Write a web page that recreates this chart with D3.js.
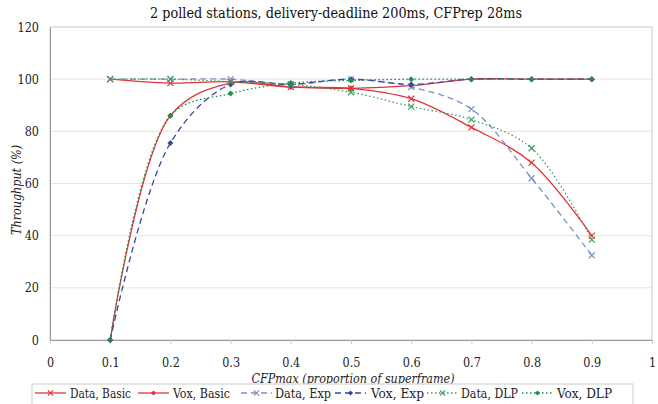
<!DOCTYPE html>
<html><head><meta charset="utf-8">
<script src="https://cdn.jsdelivr.net/npm/d3@7"></script>
<style>body{margin:0;background:#fff}svg{display:block}</style>
</head><body><svg id="c" width="658" height="404"></svg>
<script>
const xVals = [0.1,0.2,0.3,0.4,0.5,0.6,0.7,0.8,0.9];
const dataBasic = [100,98.5,99,97,96.5,92.5,81.5,68,40];
const voxBasic  = [0,86,98.5,97,96.5,97.5,100,100,100];
const dataExp   = [100,100,100,98,100,97,88.5,62,32.5];
const voxExp    = [0,75.5,98,98,100,98,100,100,100];
const dataDLP   = [100,100,99,98,95,89.5,84.5,73.5,38.5];
const voxDLP    = [0,86,94.5,98.5,99.5,100,100,100,100];
const xTicks = [0,0.1,0.2,0.3,0.4,0.5,0.6,0.7,0.8,0.9,1];
const yTicks = [0,20,40,60,80,100,120];
const seriesNames = ["Data, Basic","Vox, Basic","Data, Exp","Vox, Exp","Data, DLP","Vox, DLP"];

const series = [
  {name:seriesNames[0], vals:dataBasic, color:"#e0353a", dash:null, marker:"x"},
  {name:seriesNames[1], vals:voxBasic, color:"#e0353a", dash:null, marker:"dot"},
  {name:seriesNames[2], vals:dataExp, color:"#7f8fc8", dash:"6,4", marker:"x"},
  {name:seriesNames[3], vals:voxExp, color:"#3448a0", dash:"6,4", marker:"dot"},
  {name:seriesNames[4], vals:dataDLP, color:"#36a060", dash:"1.5,2.5", marker:"x"},
  {name:seriesNames[5], vals:voxDLP, color:"#1f8f4a", dash:"1.5,2.5", marker:"dot"}
];
const FONT = "'DejaVu Serif Condensed', 'DejaVu Serif', serif";

const svg = d3.select("#c").attr("font-family",FONT);
const x = d3.scaleLinear().domain([0,1]).range([50,652]);
const y = d3.scaleLinear().domain([0,120]).range([340,27]);

svg.append("text").attr("x",336).attr("y",18).attr("text-anchor","middle").style("font-family",FONT)
  .attr("font-size",15).attr("fill","#111").attr("textLength",372).attr("lengthAdjust","spacingAndGlyphs")
  .text("2 polled stations, delivery-deadline 200ms, CFPrep 28ms");

svg.append("g").selectAll("line").data(yTicks.filter(d=>d>0&&d<120)).join("line")
  .attr("x1",x(0)).attr("x2",x(1)).attr("y1",d=>y(d)).attr("y2",d=>y(d))
  .attr("stroke","#e4e4e4").attr("stroke-width",1);
svg.append("rect").attr("x",x(0)).attr("y",y(120)).attr("width",x(1)-x(0)).attr("height",y(0)-y(120))
  .attr("fill","none").attr("stroke","#c8c8c8").attr("stroke-width",1);

const yAxis = svg.append("g").attr("transform",`translate(${x(0)},0)`)
  .call(d3.axisLeft(y).tickValues(yTicks).tickSize(0).tickPadding(11).tickFormat(d3.format("d")));
yAxis.attr("font-family",FONT);
yAxis.select(".domain").attr("stroke","#999");
yAxis.selectAll("text").attr("font-size",12.5).attr("fill","#222").style("font-family",FONT);

const xAxis = svg.append("g").attr("transform",`translate(0,${y(0)})`)
  .call(d3.axisBottom(x).tickValues(xTicks).tickSize(4).tickPadding(14).tickFormat(d=>d===0||d===1?String(d):d3.format(".1f")(d)));
xAxis.attr("font-family",FONT);
xAxis.select(".domain").attr("stroke","#999");
xAxis.selectAll(".tick line").attr("stroke","#ccc");
xAxis.selectAll("text").attr("font-size",12.5).attr("fill","#222").style("font-family",FONT);

svg.append("text").attr("transform","translate(21,190) rotate(-90)").attr("text-anchor","middle").style("font-family",FONT)
  .attr("font-size",13).attr("font-style","italic").attr("fill","#222")
  .attr("textLength",90).attr("lengthAdjust","spacingAndGlyphs").text("Throughput (%)");
svg.append("text").attr("x",353).attr("y",383).attr("text-anchor","middle").style("font-family",FONT)
  .attr("font-size",13).attr("font-style","italic").attr("fill","#222")
  .attr("textLength",203).attr("lengthAdjust","spacingAndGlyphs").text("CFPmax (proportion of superframe)");

const line = d3.line().x((d,i)=>x(xVals[i])).y(d=>y(d)).curve(d3.curveCatmullRom.alpha(0.5));

function drawMarker(g, type, color, cx, cy, s){
  if(type==="x"){
    g.append("path").attr("d",`M${cx-s},${cy-s}L${cx+s},${cy+s}M${cx-s},${cy+s}L${cx+s},${cy-s}`)
      .attr("stroke",color).attr("stroke-width",1.2).attr("fill","none");
  } else {
    g.append("path").attr("d",`M${cx},${cy-s}L${cx+s},${cy}L${cx},${cy+s}L${cx-s},${cy}Z`)
      .attr("fill",color);
  }
}

const plot = svg.append("g");
series.forEach(s=>{
  plot.append("path").datum(s.vals).attr("d",line).attr("fill","none")
    .attr("stroke",s.color).attr("stroke-width",1.3).attr("stroke-dasharray",s.dash);
});
series.forEach(s=>{
  const g = plot.append("g");
  s.vals.forEach((v,i)=>drawMarker(g,s.marker,s.color,x(xVals[i]),y(v),3));
});

const lg = svg.append("g");
lg.append("rect").attr("x",32).attr("y",384).attr("width",601).attr("height",30)
  .attr("fill","#fff").attr("stroke","#ccc");
const legX = [35,138,241,335,427,522];
const legTX = [70,173,275,371,461,557];
const legW = [61,57,56,53,57,55];
series.forEach((s,i)=>{
  const lx = legX[i], ly = 393;
  lg.append("line").attr("x1",lx).attr("x2",lx+31).attr("y1",ly).attr("y2",ly)
    .attr("stroke",s.color).attr("stroke-width",1.3).attr("stroke-dasharray",s.dash);
  drawMarker(lg,s.marker,s.color,lx+15.5,ly,2.6);
  lg.append("text").attr("x",legTX[i]).attr("y",397.5).attr("font-size",13.5).style("font-family",FONT).attr("fill","#222")
    .attr("textLength",legW[i]).attr("lengthAdjust","spacingAndGlyphs").text(s.name);
});
</script></body></html>
